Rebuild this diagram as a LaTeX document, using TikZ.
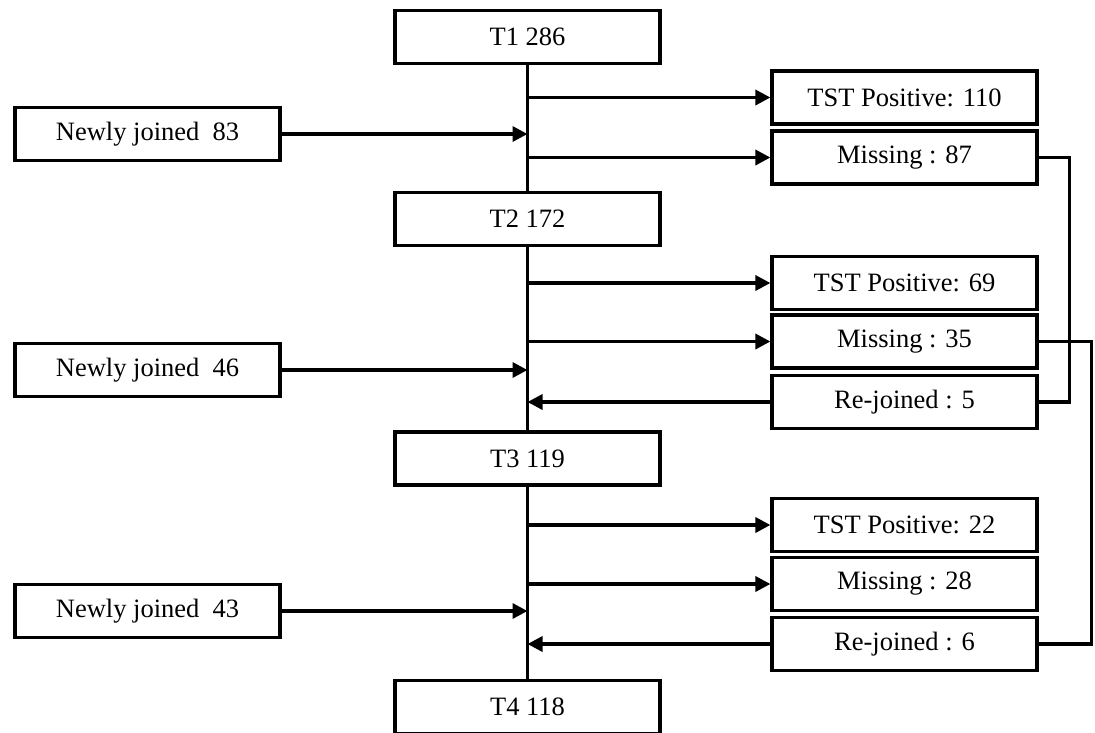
\documentclass[tikz,border=0pt]{standalone}
\usepackage{fontspec}
\setmainfont{Liberation Serif}
\usetikzlibrary{arrows.meta,positioning,calc}

\tikzset{
  box/.style={draw, line width=3.2pt, minimum width=265pt, minimum height=53pt,
    inner sep=0pt, font=\fontsize{26.5}{30}\selectfont},
  link/.style={line width=3.4pt},
  arr/.style={link, -{Triangle[length=15pt,width=15pt]}}
}

\begin{document}
\begin{tikzpicture}[x=1pt,y=-1pt]

\useasboundingbox (0,0) rectangle (1095,732);

% time points
\node[box] (t1) at (527.5,37) {T1 286};
\node[box] (t2) at (527.5,219) {T2 172};
\node[box] (t3) at (527.5,458.5) {T3 119};
\node[box] (t4) at (527.5,707) {T4 118};

% newcomers
\node[box] (nj1) at (147.5,134) {Newly joined~~83};
\node[box] (nj2) at (147.5,370) {Newly joined~~46};
\node[box] (nj3) at (147.5,611) {Newly joined~~43};

% outcomes
\node[box] (tst1) at (904.5,97.5) {TST Positive: 110};
\node[box] (mis1) at (904.5,157.5) {Missing : 87};
\node[box] (tst2) at (904.5,283) {TST Positive: 69};
\node[box] (mis2) at (904.5,341.5) {Missing : 35};
\node[box] (rej1) at (904.5,402) {Re-joined : 5};
\node[box] (tst3) at (904.5,525) {TST Positive: 22};
\node[box] (mis3) at (904.5,584) {Missing : 28};
\node[box] (rej2) at (904.5,644) {Re-joined : 6};

% main line
\draw[link] (t1) -- (t2);
\draw[link] (t2) -- (t3);
\draw[link] (t3) -- (t4);

\draw[arr] (t1 |- tst1) -- (tst1);
\draw[arr] (t1 |- mis1) -- (mis1);
\draw[arr] (nj1) -- (t1 |- nj1);

\draw[arr] (t2 |- tst2) -- (tst2);
\draw[arr] (t2 |- mis2) -- (mis2);
\draw[arr] (nj2) -- (t2 |- nj2);
\draw[arr] (rej1) -- (t2 |- rej1);

\draw[arr] (t3 |- tst3) -- (tst3);
\draw[arr] (t3 |- mis3) -- (mis3);
\draw[arr] (nj3) -- (t3 |- nj3);
\draw[arr] (rej2) -- (t3 |- rej2);

% missing ones coming back
\draw[link] (mis1.east) -- ++(31,0) |- (rej1.east);
\draw[link] (mis2.east) -- ++(53,0) |- (rej2.east);

\end{tikzpicture}
\end{document}
